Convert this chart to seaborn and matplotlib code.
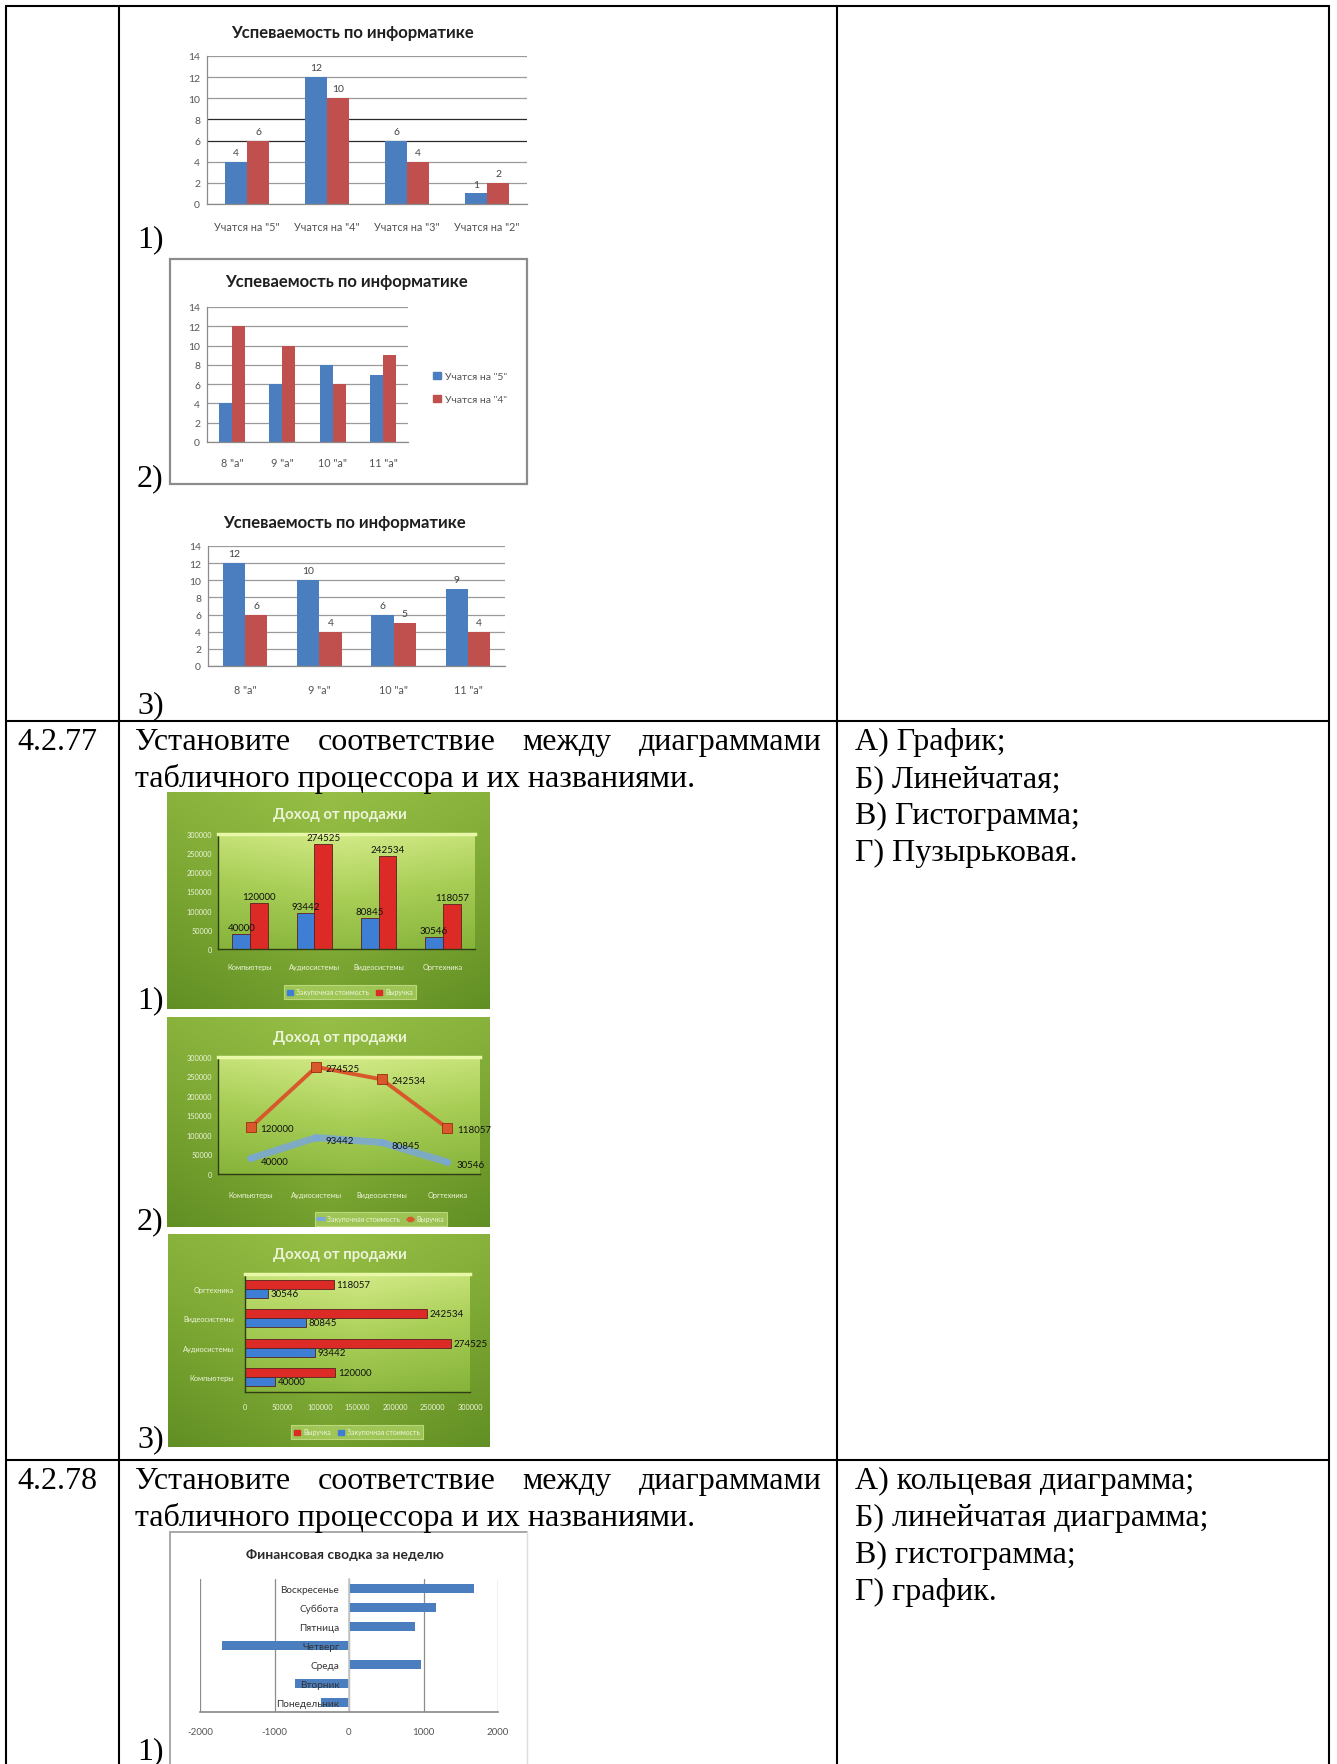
import numpy as np
import pandas as pd
import matplotlib
matplotlib.use('Agg')
import matplotlib.pyplot as plt
import seaborn as sns
from matplotlib.lines import Line2D
from matplotlib.patches import Patch, Rectangle
from matplotlib.colors import LinearSegmentedColormap

# ---------------- data ----------------
perf1_categories = ['Учатся на "5"', 'Учатся на "4"', 'Учатся на "3"', 'Учатся на "2"']
perf1_blue = [4, 12, 6, 1]
perf1_red = [6, 10, 4, 2]

class_categories = ['8 "а"', '9 "а"', '10 "а"', '11 "а"']
perf2_blue = [4, 6, 8, 7]
perf2_red = [12, 10, 6, 9]
perf2_series = ['Учатся на "5"', 'Учатся на "4"']

perf3_blue = [12, 10, 6, 9]
perf3_red = [6, 4, 5, 4]
perf_ticks = [0, 2, 4, 6, 8, 10, 12, 14]

sales_categories = ['Компьютеры', 'Аудиосистемы', 'Видеосистемы', 'Оргтехника']
sales_cost = [40000, 93442, 80845, 30546]
sales_revenue = [120000, 274525, 242534, 118057]
sales_series = ['Закупочная стоимость', 'Выручка']
income_ticks = [0, 50000, 100000, 150000, 200000, 250000, 300000]

week_days = ['Понедельник', 'Вторник', 'Среда', 'Четверг', 'Пятница', 'Суббота', 'Воскресенье']
week_values = [-380, -730, 970, -1700, 880, 1170, 1680]
week_ticks = [-2000, -1000, 0, 1000, 2000]

perf_title = 'Успеваемость по информатике'
sales_title = 'Доход от продажи'
week_title = 'Финансовая сводка за неделю'

q77_line1 = ['Установите', 'соответствие', 'между', 'диаграммами']
q77_line2 = 'табличного процессора и их названиями.'
q77_answers = ['А) График;', 'Б) Линейчатая;', 'В) Гистограмма;', 'Г) Пузырьковая.']
q78_answers = ['А) кольцевая диаграмма;', 'Б) линейчатая диаграмма;', 'В) гистограмма;', 'Г) график.']

# ---------------- setup ----------------
sns.set_theme(style='white')
plt.rcParams['font.family'] = ['Lato', 'DejaVu Sans']

W, H = 1337, 1765
fig = plt.figure(figsize=(W / 100, H / 100), dpi=100)
fig.patch.set_facecolor('white')

BLUE = '#4A7EBE'
RED = '#C0504D'
GBLUE = '#3E7ED4'
GRED = '#DC2B27'
SERIF = 'Liberation Serif'
FS = 23


def rect(x0, y0, x1, y1):
    return [x0 / W, 1 - y1 / H, (x1 - x0) / W, (y1 - y0) / H]


def fx(x):
    return x / W


def fy(y):
    return 1 - y / H


def hline(x0, x1, y, color='black', lw=1.5):
    fig.add_artist(Line2D([fx(x0), fx(x1)], [fy(y), fy(y)], color=color, lw=lw,
                          transform=fig.transFigure))


def vline(x, y0, y1, color='black', lw=1.5):
    fig.add_artist(Line2D([fx(x), fx(x)], [fy(y0), fy(y1)], color=color, lw=lw,
                          transform=fig.transFigure))


def ptext(x, y, s, **kw):
    return fig.text(fx(x), fy(y), s, fontsize=FS, family=SERIF, va='baseline',
                    ha='left', color='black', **kw)


def justified(words, x0, x1, y):
    r = fig.canvas.get_renderer()
    ts = [ptext(x0, y, w) for w in words]
    widths = [t.get_window_extent(r).width for t in ts]
    gap = (x1 - x0 - sum(widths)) / (len(words) - 1)
    x = x0
    for t, w in zip(ts, widths):
        t.set_x(fx(x))
        x += w + gap


def gradient_axes(box, colors, side=0.25):
    a = fig.add_axes(rect(*box))
    a.set_axis_off()
    cm = LinearSegmentedColormap.from_list('g', colors)
    yy = np.linspace(0, 1, 200)[:, None]
    xx = np.linspace(0, 1, 200)[None, :]
    g = np.clip(yy * (1 - side) + side * np.abs(xx - 0.5) * 2, 0, 1)
    a.imshow(g, cmap=cm, aspect='auto', extent=[0, 1, 0, 1], vmin=0, vmax=1,
             interpolation='bilinear')
    a.set_xlim(0, 1)
    a.set_ylim(0, 1)
    return a


# ---------------- table ----------------
hline(6, 1329, 7)
hline(6, 1329, 722)
hline(6, 1329, 1461)
for xv in (6, 119, 837, 1329):
    vline(xv, 7, 1765)

# ---------------- white performance charts ----------------
def perf_bars(plot_box, cats, s1, s2, names, width, xpad, label_bars):
    ax = fig.add_axes(rect(*plot_box))
    df = pd.DataFrame({'cat': cats + cats, 'val': s1 + s2,
                       'ser': [names[0]] * len(cats) + [names[1]] * len(cats)})
    sns.barplot(data=df, x='cat', y='val', hue='ser', order=cats, hue_order=names,
                palette=[BLUE, RED], width=width, saturation=1, linewidth=0,
                ax=ax, legend=False)
    ax.set_ylim(0, 14)
    ax.set_yticks(perf_ticks)
    ax.set_xlim(-0.5, len(cats) - 0.5)
    ax.set_xlabel('')
    ax.set_ylabel('')
    ax.set_facecolor('none')
    ax.grid(axis='y', color='#9a9a9a', lw=0.9)
    ax.set_axisbelow(True)
    for s in ['top', 'right']:
        ax.spines[s].set_visible(False)
    for s in ['left', 'bottom']:
        ax.spines[s].set_color('#8a8a8a')
        ax.spines[s].set_linewidth(0.9)
    ax.tick_params(axis='y', labelsize=7.5, labelcolor='#555555', length=0, pad=5)
    ax.tick_params(axis='x', labelsize=7.8, labelcolor='#555555', length=0, pad=xpad)
    ax.set_xticks(np.arange(len(cats) + 1) - 0.5, minor=True)
    ax.tick_params(axis='x', which='minor', length=3, color='#8a8a8a', width=0.8)
    if label_bars:
        for c in ax.containers:
            ax.bar_label(c, padding=3.5, fontsize=7.5, color='#444444')
    return ax


# chart 1
fig.text(fx(353), fy(33), perf_title, ha='center', va='center', fontsize=12,
         fontweight='bold', color='#1f1f1f')
ax1 = perf_bars((207, 57, 527, 205), perf1_categories, perf1_blue, perf1_red,
                ['s1', 's2'], 0.55, 12, True)
gl = ax1.yaxis.get_gridlines()
gl[3].set_color('#2a2a2a')
gl[4].set_color('#2a2a2a')
ptext(137, 247, '1)')

# chart 2
fig.add_artist(Rectangle((fx(170), fy(485)), fx(527) - fx(170), fy(260) - fy(485),
                         transform=fig.transFigure, fill=False, ec='#8c8c8c', lw=1.6))
fig.text(fx(347), fy(282), perf_title, ha='center', va='center', fontsize=12,
         fontweight='bold', color='#1f1f1f')
ax2 = perf_bars((207, 308, 408, 443), class_categories, perf2_blue, perf2_red,
                perf2_series, 0.52, 11, False)
fig.legend([Patch(color=BLUE), Patch(color=RED)], perf2_series, loc='center left',
           bbox_to_anchor=(fx(424), fy(389)), bbox_transform=fig.transFigure,
           frameon=False, fontsize=7.5, handlelength=0.7, handleheight=0.7,
           labelspacing=1.3, handletextpad=0.4, labelcolor='#555555')
ptext(137, 486, '2)')

# chart 3
fig.text(fx(345), fy(523), perf_title, ha='center', va='center', fontsize=12,
         fontweight='bold', color='#1f1f1f')
ax3 = perf_bars((208, 547, 505, 667), class_categories, perf3_blue, perf3_red,
                ['s1', 's2'], 0.6, 13, True)
ptext(137, 713, '3)')

# ---------------- question 4.2.77 ----------------
ptext(17, 750, '4.2.77')
justified(q77_line1, 135, 822, 750)
ptext(135, 787, q77_line2)
for i, s in enumerate(q77_answers):
    ptext(855, 750 + 37 * i, s)

OUTER = ['#97BF47', '#7FAA35', '#628F24']
INNER = ['#D2EA86', '#A7CD55', '#86B33A']
TXT = '#EDF4DA'


def green_frame(outer_box, plot_box, title, title_xy):
    gradient_axes(outer_box, OUTER, side=0.3)
    gradient_axes(plot_box, INNER, side=0.15)
    fig.text(fx(title_xy[0]), fy(title_xy[1]), title, ha='center', va='center',
             fontsize=10.8, fontweight='bold', color=TXT)
    ax = fig.add_axes(rect(*plot_box))
    ax.set_facecolor('none')
    return ax


def green_style(ax):
    ax.spines['right'].set_visible(False)
    ax.spines['top'].set_color('#E8F7A8')
    ax.spines['top'].set_linewidth(2.5)
    ax.spines['left'].set_color('#2f3d14')
    ax.spines['bottom'].set_color('#2f3d14')
    ax.spines['left'].set_linewidth(1.0)
    ax.spines['bottom'].set_linewidth(1.0)
    ax.set_xlabel('')
    ax.set_ylabel('')
    ax.tick_params(axis='both', labelsize=5.3, labelcolor=TXT, length=0)


def green_legend(handles, labels, cx, cy, ncol=2):
    lg = fig.legend(handles, labels, loc='center', bbox_to_anchor=(fx(cx), fy(cy)),
                    bbox_transform=fig.transFigure, ncol=ncol, fontsize=5.0,
                    frameon=True, facecolor='#A9CF60', edgecolor='#C8E38A',
                    handlelength=0.9, handleheight=0.7, columnspacing=1.0,
                    handletextpad=0.4, labelcolor=TXT, borderpad=0.5, fancybox=False)
    lg.get_frame().set_linewidth(0.8)
    return lg


# green chart 1 : column
bx1 = green_frame((167, 793, 490, 1010), (218, 835, 475, 950), sales_title, (340, 815))
df_sales = pd.DataFrame({'cat': sales_categories * 2,
                         'val': sales_cost + sales_revenue,
                         'ser': [sales_series[0]] * 4 + [sales_series[1]] * 4})
sns.barplot(data=df_sales, x='cat', y='val', hue='ser', order=sales_categories,
            hue_order=sales_series, palette=[GBLUE, GRED], width=0.55, saturation=1,
            linewidth=0.6, edgecolor='#5a2020', ax=bx1, legend=False)
bx1.set_ylim(0, 300000)
bx1.set_yticks(income_ticks)
bx1.set_yticklabels([str(v) for v in income_ticks])
bx1.set_xlim(-0.5, 3.5)
green_style(bx1)
bx1.tick_params(axis='y', pad=4)
bx1.tick_params(axis='x', pad=10)
for c in bx1.containers:
    bx1.bar_label(c, labels=[str(int(v)) for v in c.datavalues], padding=1.5,
                  fontsize=7, color='#111111')
green_legend([Patch(color=GBLUE), Patch(color=GRED)], sales_series, 350, 993)
ptext(137, 1008, '1)')

# green chart 2 : line
bx2 = green_frame((167, 1018, 490, 1228), (218, 1058, 480, 1175), sales_title, (340, 1038))
df_line = pd.DataFrame({'pos': list(range(4)) * 2,
                        'val': sales_cost + sales_revenue,
                        'ser': [sales_series[0]] * 4 + [sales_series[1]] * 4})
sns.lineplot(data=df_line[df_line.ser == sales_series[0]], x='pos', y='val',
             color='#7AA7DA', lw=5, alpha=0.85, marker='o', markersize=5,
             markeredgewidth=0, ax=bx2, legend=False)
sns.lineplot(data=df_line[df_line.ser == sales_series[1]], x='pos', y='val',
             color='#D8582C', lw=2.8, marker='s', markersize=7.5, markeredgewidth=0.6,
             markeredgecolor='#9a2d10', ax=bx2, legend=False)
bx2.set_ylim(0, 300000)
bx2.set_yticks(income_ticks)
bx2.set_yticklabels([str(v) for v in income_ticks])
bx2.set_xlim(-0.5, 3.5)
bx2.set_xticks(range(4))
bx2.set_xticklabels(sales_categories)
green_style(bx2)
bx2.tick_params(axis='y', pad=4)
bx2.tick_params(axis='x', pad=12)
for i, v in enumerate(sales_revenue):
    bx2.annotate(str(v), (i, v), xytext=(7, -1), textcoords='offset points',
                 fontsize=7, color='#111111', va='center', ha='left')
for i, v in enumerate(sales_cost):
    bx2.annotate(str(v), (i, v), xytext=(7, -2), textcoords='offset points',
                 fontsize=7, color='#111111', va='center', ha='left')
green_legend([Line2D([], [], color='#7AA7DA', lw=3),
              Line2D([], [], color='#D8582C', lw=2, marker='s', markersize=3)],
             sales_series, 381, 1220)
ptext(137, 1229, '2)')

# green chart 3 : horizontal bars
bx3 = green_frame((168, 1235, 490, 1448), (245, 1275, 470, 1393), sales_title, (340, 1255))
sales_order_rev = sales_categories[::-1]
series_rev = sales_series[::-1]
sns.barplot(data=df_sales, y='cat', x='val', hue='ser', order=sales_order_rev,
            hue_order=series_rev, palette=[GRED, GBLUE], width=0.62, saturation=1,
            linewidth=0.6, edgecolor='#5a2020', orient='h', ax=bx3, legend=False)
bx3.set_xlim(0, 300000)
bx3.set_xticks(income_ticks)
bx3.set_xticklabels([str(v) for v in income_ticks])
green_style(bx3)
bx3.tick_params(axis='y', pad=8)
bx3.tick_params(axis='x', pad=8)
for c in bx3.containers:
    bx3.bar_label(c, labels=[str(int(v)) for v in c.datavalues], padding=2,
                  fontsize=7, color='#111111')
green_legend([Patch(color=GRED), Patch(color=GBLUE)], series_rev, 357, 1433)
ptext(137, 1447, '3)')

# ---------------- question 4.2.78 ----------------
ptext(17, 1489, '4.2.78')
justified(q77_line1, 135, 822, 1489)
ptext(135, 1526, q77_line2)
for i, s in enumerate(q78_answers):
    ptext(855, 1489 + 37 * i, s)

# weekly chart
vline(170, 1533, 1765, color='#a8a8a8', lw=1.4)
hline(170, 527, 1533, color='#a8a8a8', lw=1.4)
vline(527, 1533, 1765, color='#dddddd', lw=1.0)
fig.text(fx(345), fy(1555), week_title, ha='center', va='center', fontsize=10,
         fontweight='bold', color='#2a2a2a')
cx = fig.add_axes(rect(200, 1580, 498, 1713))
cx.set_facecolor('none')
sns.barplot(x=week_values[::-1], y=week_days[::-1], orient='h', color=BLUE,
            saturation=1, width=0.48, linewidth=0, ax=cx)
cx.set_xlim(-2000, 2000)
cx.set_xticks(week_ticks)
cx.set_xticklabels([str(v) for v in week_ticks])
cx.grid(axis='x', color='#8c8c8c', lw=0.9)
cx.set_axisbelow(True)
cx.yaxis.set_zorder(3)
for s in ['top', 'right']:
    cx.spines[s].set_visible(False)
cx.spines['left'].set_position(('data', 0))
cx.spines['left'].set_color('#c8c8c8')
cx.spines['bottom'].set_color('#8c8c8c')
cx.set_xlabel('')
cx.set_ylabel('')
cx.tick_params(axis='y', labelsize=7.2, labelcolor='#333333', length=0, pad=7)
cx.tick_params(axis='x', labelsize=7, labelcolor='#555555', length=3, color='#8c8c8c',
               pad=8)
ptext(137, 1759, '1)')

fig.savefig('out.png', dpi=100)
